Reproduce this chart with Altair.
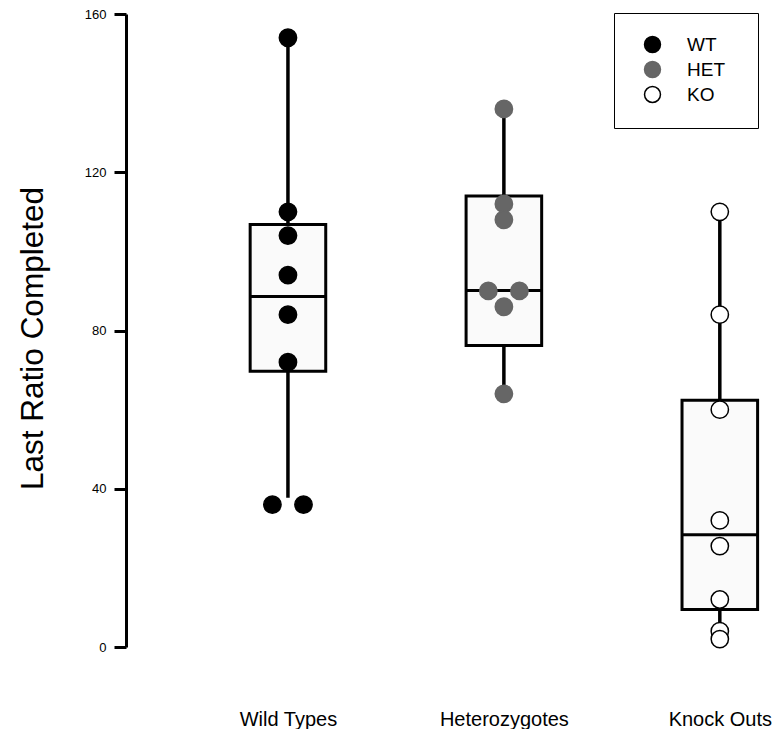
import altair as alt
import pandas as pd

# ---- data ----
groups = ["Wild Types", "Heterozygotes", "Knock Outs"]
genotypes = ["WT", "HET", "KO"]
wt_values = [154, 110, 104, 94, 84, 72, 36, 36]
het_values = [136, 112, 108, 90, 90, 86, 64]
ko_values = [110, 84, 60, 32, 25.5, 12, 4, 2]

q1 = [69.7, 76.2, 9.5]
median = [88.6, 90.1, 28.4]
q3 = [106.8, 114.0, 62.4]
whisker_low = [37.7, 64, 2]
whisker_high = [154, 136, 110]

point_colors = ["#000000", "#666666", "#ffffff"]
point_strokes = ["#000000", "#666666", "#000000"]

BOX_HALF = 0.175
DODGE = 0.072

# ---- build tables ----
rows = []
for gi, (geno, vals) in enumerate(zip(genotypes, [wt_values, het_values, ko_values])):
    # identical values sit side by side
    counts = {}
    for v in vals:
        counts[v] = counts.get(v, 0) + 1
    seen = {}
    for v in vals:
        n = counts[v]
        k = seen.get(v, 0)
        seen[v] = k + 1
        off = (k - (n - 1) / 2) * 2 * DODGE if n > 1 else 0.0
        rows.append({"group": groups[gi], "genotype": geno, "xpos": gi + off, "value": v})
points = pd.DataFrame(rows)

stats = pd.DataFrame({
    "group": groups,
    "xpos": list(range(len(groups))),
    "xl": [i - BOX_HALF for i in range(len(groups))],
    "xr": [i + BOX_HALF for i in range(len(groups))],
    "q1": q1, "median": median, "q3": q3,
    "lo": whisker_low, "hi": whisker_high,
})

label_expr = " : ".join(
    [f"datum.value == {i} ? '{g}'" for i, g in enumerate(groups)]
) + " : ''"

xscale = alt.Scale(domain=[-0.75, 2.2], nice=False, zero=False)
yscale = alt.Scale(domain=[0, 160], nice=False)

x_axis = alt.Axis(values=[0, 1, 2], labelExpr=label_expr, domain=False, ticks=False,
                  grid=False, title=None, labelFontSize=20, labelColor="black",
                  labelPadding=62, labelFont="Liberation Sans")
y_axis = alt.Axis(values=[0, 40, 80, 120, 160], grid=False, title="Last Ratio Completed",
                  titleFontSize=31.5, titleFontWeight="normal", titleColor="black",
                  titleFont="Liberation Sans", titleX=-93, titleY=324, titleAngle=270,
                  titleAlign="center", titleBaseline="middle",
                  labelFontSize=13, labelColor="black", labelFont="Liberation Sans",
                  labelPadding=8, tickSize=12, tickWidth=3, tickColor="black",
                  domainWidth=3, domainColor="black")

base_stats = alt.Chart(stats)

whiskers = base_stats.mark_rule(color="black", strokeWidth=3.5).encode(
    x=alt.X("xpos:Q", scale=xscale, axis=x_axis),
    y=alt.Y("lo:Q", scale=yscale, axis=y_axis),
    y2="hi:Q",
)

boxes = base_stats.mark_rect(fill="#fafafa", stroke="black", strokeWidth=3).encode(
    x=alt.X("xl:Q", scale=xscale),
    x2="xr:Q",
    y=alt.Y("q1:Q", scale=yscale),
    y2="q3:Q",
)

medians = base_stats.mark_rule(color="black", strokeWidth=3).encode(
    x=alt.X("xl:Q", scale=xscale),
    x2="xr:Q",
    y=alt.Y("median:Q", scale=yscale),
)

# an invisible (white) title on the right only widens the legend box
legend = alt.Legend(title="ii", titleOrient="right", titleColor="white", titleFontSize=10,
                    titlePadding=5,
                    orient="none", legendX=488, legendY=-1,
                    padding=22, strokeColor="black", fillColor="white",
                    symbolType="circle", symbolSize=254,
                    symbolStrokeWidth=1.5, symbolOffset=7,
                    labelFontSize=19, labelFont="Liberation Sans",
                    labelColor="black", labelOffset=25, rowPadding=2)

dots = alt.Chart(points).mark_circle(size=300, opacity=1, strokeWidth=1.5).encode(
    x=alt.X("xpos:Q", scale=xscale),
    y=alt.Y("value:Q", scale=yscale),
    fill=alt.Fill("genotype:N", scale=alt.Scale(domain=genotypes, range=point_colors),
                  legend=legend),
    stroke=alt.Stroke("genotype:N", scale=alt.Scale(domain=genotypes, range=point_strokes),
                      legend=legend),
)

chart = alt.layer(whiskers, boxes, medians, dots).properties(
    width=637, height=633,
    autosize=alt.AutoSizeParams(type="none"),
    padding={"left": 118, "top": 6, "right": 9, "bottom": 82},
).configure_view(stroke=None)

chart.save("out.html", embed_options={"renderer": "svg", "actions": False})
